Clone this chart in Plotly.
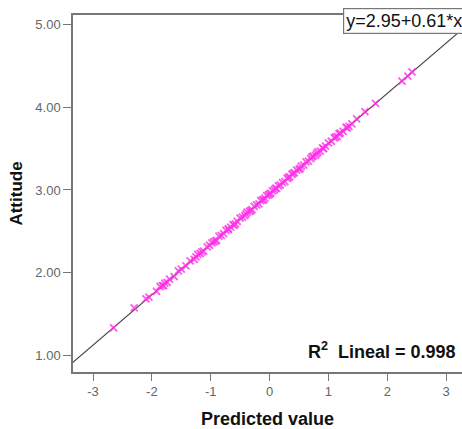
import plotly.graph_objects as go

# Observed data (predicted value vs attitude)
pred = [-2.65, -2.30, -2.10, -2.05, -1.92, -1.86, -1.82, -1.80, -1.78, -1.74, -1.70, -1.62,
        -1.55, -1.50, -1.42, -1.35, -1.28, -1.25, -1.22, -1.18, -1.15, -1.12, -1.06, -1.02,
        -0.98, -0.95, -0.92, -0.90, -0.86, -0.82, -0.78, -0.74, -0.70, -0.70, -0.66, -0.62,
        -0.60, -0.58, -0.55, -0.50, -0.46, -0.42, -0.40, -0.38, -0.34, -0.32, -0.30, -0.26,
        -0.22, -0.18, -0.15, -0.12, -0.10, -0.08, -0.05, -0.02, 0.00, 0.02, 0.05, 0.08,
        0.10, 0.12, 0.15, 0.18, 0.22, 0.26, 0.30, 0.32, 0.34, 0.38, 0.40, 0.42, 0.46,
        0.50, 0.52, 0.54, 0.58, 0.62, 0.66, 0.70, 0.72, 0.74, 0.78, 0.80, 0.82, 0.86,
        0.90, 0.92, 0.95, 1.00, 1.05, 1.10, 1.12, 1.15, 1.18, 1.20, 1.25, 1.30, 1.32,
        1.35, 1.40, 1.48, 1.62, 1.80, 2.25, 2.35, 2.42]
attitude = [1.33, 1.57, 1.68, 1.70, 1.77, 1.83, 1.84, 1.84, 1.87, 1.88, 1.92, 1.95,
            2.02, 2.04, 2.08, 2.14, 2.16, 2.19, 2.22, 2.23, 2.25, 2.26, 2.31, 2.33,
            2.36, 2.37, 2.38, 2.39, 2.44, 2.45, 2.47, 2.51, 2.52, 2.53, 2.55, 2.58,
            2.57, 2.59, 2.62, 2.66, 2.67, 2.69, 2.71, 2.73, 2.74, 2.75, 2.76, 2.80,
            2.82, 2.83, 2.87, 2.88, 2.88, 2.90, 2.93, 2.94, 2.95, 2.96, 2.99, 3.00,
            3.02, 3.02, 3.05, 3.06, 3.09, 3.10, 3.14, 3.15, 3.16, 3.19, 3.20, 3.21, 3.24,
            3.25, 3.26, 3.29, 3.30, 3.34, 3.35, 3.38, 3.40, 3.41, 3.42, 3.44, 3.46, 3.47,
            3.51, 3.50, 3.53, 3.57, 3.59, 3.63, 3.64, 3.65, 3.68, 3.69, 3.71, 3.76, 3.75,
            3.77, 3.80, 3.86, 3.95, 4.05, 4.32, 4.38, 4.43]

# Fit line
intercept = 2.95
slope = 0.61
fit_x = [-3.5, 3.5]
fit_y = [intercept + slope * v for v in fit_x]

x_ticks = [-3, -2, -1, 0, 1, 2, 3]
y_ticks = [1, 2, 3, 4, 5]
y_labels = ["1.00", "2.00", "3.00", "4.00", "5.00"]

fig = go.Figure()
fig.add_trace(go.Scatter(x=fit_x, y=fit_y, mode="lines",
                         line=dict(color="#444444", width=1.2), hoverinfo="skip"))
fig.add_trace(go.Scatter(x=pred, y=attitude, mode="markers",
                         marker=dict(symbol="x-thin", size=7,
                                     line=dict(color="#ff30e8", width=1.8),
                                     color="#ff30e8", opacity=0.8)))

axis_font = dict(family="Liberation Sans, Arial, sans-serif", size=13, color="#666666")
fig.update_layout(
    width=462, height=429,
    margin=dict(l=73, r=0, t=15, b=57, autoexpand=False),
    paper_bgcolor="white", plot_bgcolor="white",
    showlegend=False,
    font=dict(family="Liberation Sans, Arial, sans-serif"),
    xaxis=dict(range=[-3.34, 3.27], tickvals=x_ticks, ticktext=[str(v) for v in x_ticks],
               automargin=False,
               showgrid=False, zeroline=False, showline=True, linecolor="#777777",
               linewidth=1.5, mirror=True, ticks="outside", ticklen=7, tickcolor="#777777",
               tickfont=axis_font,
               title=dict(text="<b>Predicted value</b>", font=dict(size=18, color="#111111"),
                          standoff=14)),
    yaxis=dict(range=[0.794, 5.12], tickvals=y_ticks, ticktext=y_labels,
               automargin=False,
               showgrid=False, zeroline=False, showline=True, linecolor="#777777",
               linewidth=1.5, ticks="outside", ticklen=8, tickcolor="#777777",
               tickfont=axis_font,
               title=dict(text="<b>Attitude</b>", font=dict(size=17, color="#111111"),
                          standoff=8)),
    annotations=[
        dict(text="y=2.95+0.61*x", xref="paper", yref="paper", x=0.694, y=0.982,
             xanchor="left", yanchor="middle", showarrow=False,
             font=dict(size=18, color="#111111"), bgcolor="white",
             bordercolor="#777777", borderwidth=1.2, borderpad=2),
        dict(text="<b>R<sup>2</sup>  Lineal = 0.998</b>", xref="paper", yref="paper",
             x=0.99, y=0.06, xanchor="right", yanchor="middle", showarrow=False,
             font=dict(size=18, color="#111111")),
    ],
)

fig.write_html("out.html", config={"displayModeBar": False},
               post_script="document.body.style.margin='0px';document.body.style.overflow='hidden';")
